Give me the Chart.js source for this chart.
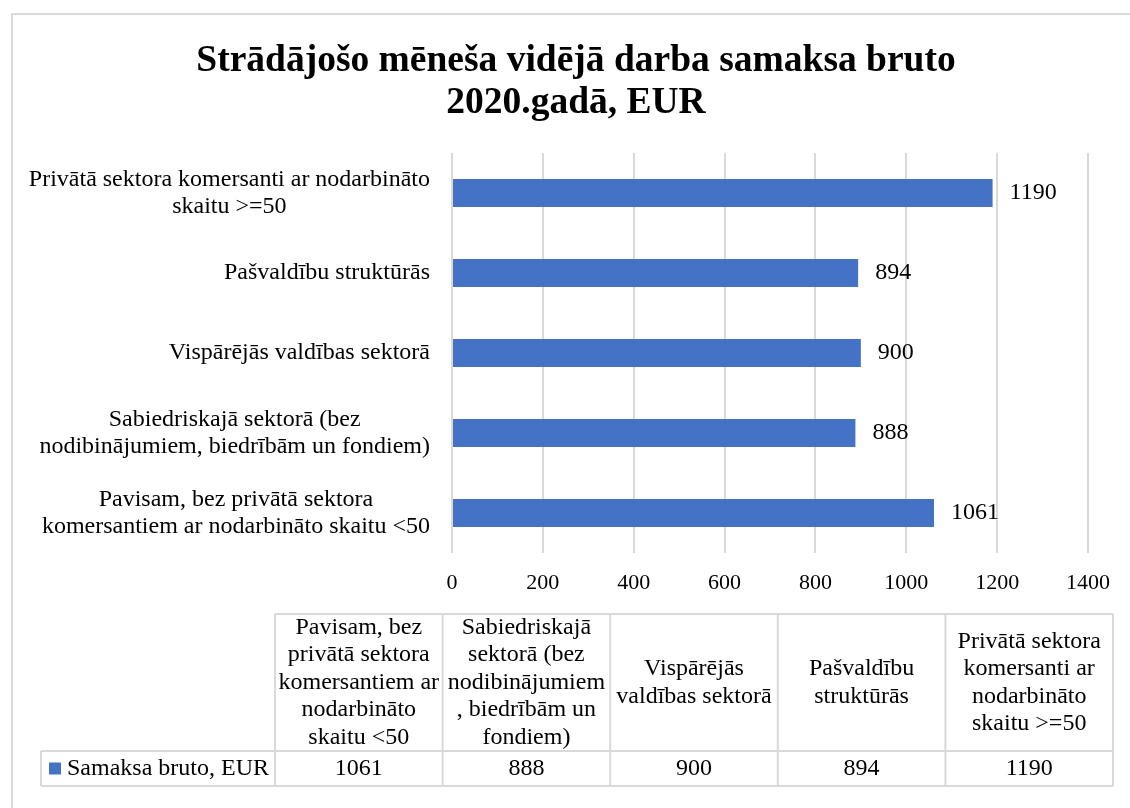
<!DOCTYPE html>
<html>
<head>
<meta charset="utf-8">
<script src="https://cdn.jsdelivr.net/npm/chart.js@4/dist/chart.umd.min.js"></script>
<style>
html,body{margin:0;padding:0;background:#ffffff;}
canvas{display:block;}
</style>
</head>
<body>
<canvas id="c" width="1130" height="808"></canvas>
<script>
// ---------- data ----------
const titleLines = ['Strādājošo mēneša vidējā darba samaksa bruto', '2020.gadā, EUR'];
const categories = [
  'Pavisam, bez privātā sektora komersantiem ar nodarbināto skaitu <50',
  'Sabiedriskajā sektorā (bez nodibinājumiem, biedrībām un fondiem)',
  'Vispārējās valdības sektorā',
  'Pašvaldību struktūrās',
  'Privātā sektora komersanti ar nodarbināto skaitu >=50'
];
const axisLabelLines = [
  ['Pavisam, bez privātā sektora', 'komersantiem ar nodarbināto skaitu <50'],
  ['Sabiedriskajā sektorā (bez', 'nodibinājumiem, biedrībām un fondiem)'],
  ['Vispārējās valdības sektorā'],
  ['Pašvaldību struktūrās'],
  ['Privātā sektora komersanti ar nodarbināto', 'skaitu >=50']
];
const tableHeaderLines = [
  ['Pavisam, bez', 'privātā sektora', 'komersantiem ar', 'nodarbināto', 'skaitu <50'],
  ['Sabiedriskajā', 'sektorā (bez', 'nodibinājumiem', ', biedrībām un', 'fondiem)'],
  ['Vispārējās', 'valdības sektorā'],
  ['Pašvaldību', 'struktūrās'],
  ['Privātā sektora', 'komersanti ar', 'nodarbināto', 'skaitu >=50']
];
const seriesName = 'Samaksa bruto, EUR';
const values = [1061, 888, 900, 894, 1190];
const xMin = 0, xMax = 1400, xStep = 200;

// ---------- style ----------
const FONT = "'Liberation Serif', 'Times New Roman', serif";
const BAR_COLOR = '#4472C4';
const GRID_COLOR = '#d9d9d9';
const TEXT_COLOR = '#000000';
const TABLE = { legendLeft: 41, colStart: 275, right: 1113, top: 614, mid: 751, bottom: 786 };

const framePlugin = {
  id: 'frame',
  beforeDraw(chart) {
    const ctx = chart.ctx;
    ctx.save();
    ctx.fillStyle = '#ffffff';
    ctx.fillRect(0, 0, chart.width, chart.height);
    ctx.strokeStyle = GRID_COLOR;
    ctx.lineWidth = 2;
    ctx.strokeRect(12, 14, chart.width + 50, chart.height + 50);
    ctx.restore();
  }
};

const yLabelPlugin = {
  id: 'yLabels',
  afterDraw(chart) {
    const ctx = chart.ctx;
    const ys = chart.scales.y;
    const rightEdge = chart.chartArea.left - 22;
    const lh = 27.5;
    ctx.save();
    ctx.font = '24px ' + FONT;
    ctx.fillStyle = TEXT_COLOR;
    ctx.textAlign = 'center';
    ctx.textBaseline = 'middle';
    axisLabelLines.forEach((lines, i) => {
      const y = ys.getPixelForTick(i);
      const w = Math.max(...lines.map(l => ctx.measureText(l).width));
      const cx = rightEdge - w / 2;
      const y0 = y - (lines.length - 1) * lh / 2;
      lines.forEach((l, k) => ctx.fillText(l, cx, y0 + k * lh));
    });
    ctx.restore();
  }
};

const valueLabelPlugin = {
  id: 'valueLabels',
  afterDatasetsDraw(chart) {
    const ctx = chart.ctx;
    const meta = chart.getDatasetMeta(0);
    ctx.save();
    ctx.font = '24px ' + FONT;
    ctx.fillStyle = TEXT_COLOR;
    ctx.textAlign = 'left';
    ctx.textBaseline = 'middle';
    meta.data.forEach((bar, i) => {
      ctx.fillText(String(values[i]), bar.x + 17, bar.y);
    });
    ctx.restore();
  }
};

const tablePlugin = {
  id: 'dataTable',
  afterDraw(chart) {
    const ctx = chart.ctx;
    const n = values.length;
    const colW = (TABLE.right - TABLE.colStart) / n;
    ctx.save();
    ctx.strokeStyle = GRID_COLOR;
    ctx.lineWidth = 2;
    ctx.beginPath();
    ctx.moveTo(TABLE.colStart, TABLE.top); ctx.lineTo(TABLE.right, TABLE.top);
    ctx.moveTo(TABLE.legendLeft, TABLE.mid); ctx.lineTo(TABLE.right, TABLE.mid);
    ctx.moveTo(TABLE.legendLeft, TABLE.bottom); ctx.lineTo(TABLE.right, TABLE.bottom);
    ctx.moveTo(TABLE.legendLeft, TABLE.mid); ctx.lineTo(TABLE.legendLeft, TABLE.bottom);
    for (let i = 0; i <= n; i++) {
      const x = TABLE.colStart + i * colW;
      ctx.moveTo(x, TABLE.top); ctx.lineTo(x, TABLE.bottom);
    }
    ctx.stroke();

    ctx.font = '24px ' + FONT;
    ctx.fillStyle = TEXT_COLOR;
    ctx.textBaseline = 'middle';
    ctx.textAlign = 'center';
    const lh = 27.5;
    const hc = (TABLE.top + TABLE.mid) / 2;
    const dc = (TABLE.mid + TABLE.bottom) / 2;
    tableHeaderLines.forEach((lines, i) => {
      const cx = TABLE.colStart + (i + 0.5) * colW;
      const y0 = hc - (lines.length - 1) * lh / 2;
      lines.forEach((l, k) => ctx.fillText(l, cx, y0 + k * lh));
      ctx.fillText(String(values[i]), cx, dc);
    });
    ctx.fillStyle = BAR_COLOR;
    ctx.fillRect(TABLE.legendLeft + 8, dc - 6, 12, 12);
    ctx.fillStyle = TEXT_COLOR;
    ctx.textAlign = 'left';
    ctx.fillText(seriesName, TABLE.legendLeft + 26, dc);
    ctx.restore();
  }
};

Chart.defaults.font.family = FONT;
Chart.defaults.color = TEXT_COLOR;

new Chart(document.getElementById('c'), {
  type: 'bar',
  data: {
    labels: categories,
    datasets: [{
      label: seriesName,
      data: values,
      backgroundColor: BAR_COLOR,
      borderWidth: 0,
      barPercentage: 0.35,
      categoryPercentage: 1.0
    }]
  },
  options: {
    indexAxis: 'y',
    responsive: false,
    animation: false,
    devicePixelRatio: 1,
    layout: { padding: { left: 22, right: 0, top: 0, bottom: 0 } },
    plugins: {
      legend: { display: false },
      tooltip: { enabled: false },
      title: {
        display: true,
        text: titleLines,
        color: TEXT_COLOR,
        font: { family: FONT, size: 37.5, weight: 'bold', lineHeight: 1.12 },
        padding: { top: 40, bottom: 29 }
      }
    },
    scales: {
      x: {
        type: 'linear',
        min: xMin,
        max: xMax,
        grid: { color: GRID_COLOR, lineWidth: 2, drawTicks: false },
        border: { display: false },
        ticks: {
          stepSize: xStep,
          font: { family: FONT, size: 22 },
          color: TEXT_COLOR,
          padding: 17,
          callback: (v) => String(v)
        },
        afterFit(scale) { scale.height = 255; scale.paddingRight = 42; }
      },
      y: {
        reverse: true,
        grid: { display: false },
        border: { display: false },
        ticks: { display: false },
        afterFit(scale) { scale.width = 430; }
      }
    }
  },
  plugins: [framePlugin, valueLabelPlugin, yLabelPlugin, tablePlugin]
});
</script>
</body>
</html>
